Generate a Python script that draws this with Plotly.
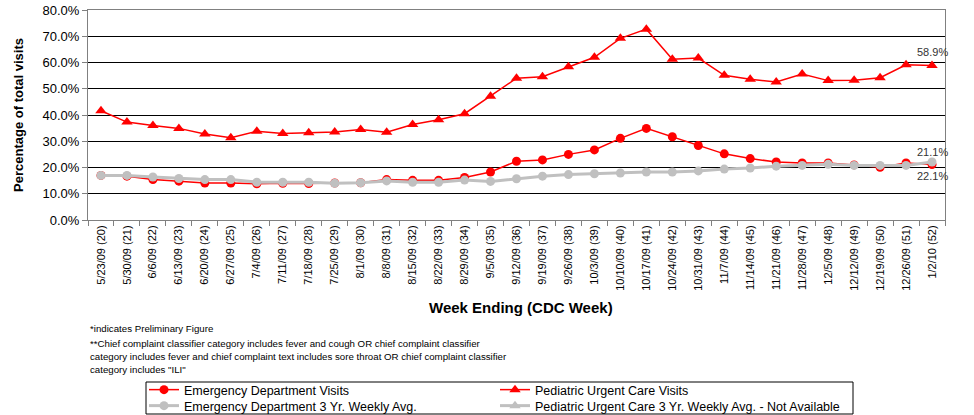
import plotly.graph_objects as go

weeks = ["5/23/09 (20)", "5/30/09 (21)", "6/6/09 (22)", "6/13/09 (23)", "6/20/09 (24)",
         "6/27/09 (25)", "7/4/09 (26)", "7/11/09 (27)", "7/18/09 (28)", "7/25/09 (29)",
         "8/1/09 (30)", "8/8/09 (31)", "8/15/09 (32)", "8/22/09 (33)", "8/29/09 (34)",
         "9/5/09 (35)", "9/12/09 (36)", "9/19/09 (37)", "9/26/09 (38)", "10/3/09 (39)",
         "10/10/09 (40)", "10/17/09 (41)", "10/24/09 (42)", "10/31/09 (43)", "11/7/09 (44)",
         "11/14/09 (45)", "11/21/09 (46)", "11/28/09 (47)", "12/5/09 (48)", "12/12/09 (49)",
         "12/19/09 (50)", "12/26/09 (51)", "1/2/10 (52)"]

ped_visits = [41.6, 37.3, 36.0, 34.9, 32.8, 31.3, 33.8, 33.0, 33.2, 33.5, 34.5, 33.4, 36.4,
              38.2, 40.5, 47.1, 54.0, 54.6, 58.4, 62.0, 69.2, 72.7, 61.2, 61.7, 55.1, 53.6,
              52.6, 55.6, 53.1, 53.2, 54.2, 59.1, 58.9]
ed_visits = [17.0, 16.7, 15.4, 14.8, 14.1, 14.1, 13.8, 14.0, 13.9, 14.1, 14.2, 15.4, 15.1,
             15.1, 16.2, 18.3, 22.4, 22.9, 25.0, 26.7, 31.1, 34.9, 31.7, 28.4, 25.2, 23.4,
             22.1, 21.7, 21.7, 21.0, 20.1, 21.7, 21.1]
ed_avg = [17.0, 17.0, 16.4, 15.8, 15.4, 15.4, 14.4, 14.4, 14.4, 14.0, 14.2, 14.9, 14.4,
          14.4, 15.2, 14.7, 15.7, 16.7, 17.3, 17.6, 17.9, 18.3, 18.3, 18.7, 19.4, 19.8,
          20.5, 20.8, 21.2, 20.8, 20.8, 20.8, 22.1]

footnotes = ["*indicates Preliminary Figure",
             "**Chief complaint classifier category includes fever and cough OR chief complaint classifier",
             "category includes fever and chief complaint text includes sore throat OR chief complaint classifier",
             "category includes \"ILI\""]

RED = "#ff0000"
GRAY = "#c0c0c0"
FONT = "Liberation Sans, Arial, sans-serif"

# plot area geometry (px) used to convert to paper coords
L, R, T, B = 88, 945, 10, 220
def px_x(x):
    return (x - L) / (R - L)
def px_y(y):
    return (B - y) / (B - T)

fig = go.Figure()
fig.add_trace(go.Scatter(x=weeks, y=ed_visits, name="Emergency Department Visits",
                         mode="lines+markers", line=dict(color=RED, width=1.5),
                         marker=dict(symbol="circle", size=9, color=RED), legend="legend"))
fig.add_trace(go.Scatter(x=weeks, y=ed_avg, name="Emergency Department 3 Yr. Weekly Avg.",
                         mode="lines+markers", line=dict(color=GRAY, width=3),
                         marker=dict(symbol="circle", size=9, color=GRAY), legend="legend2"))
fig.add_trace(go.Scatter(x=weeks, y=ped_visits, name="Pediatric Urgent Care Visits",
                         mode="lines+markers", line=dict(color=RED, width=1.5),
                         marker=dict(symbol="triangle-up", size=10, color=RED), legend="legend"))
fig.add_trace(go.Scatter(x=[None], y=[None],
                         name="Pediatric Urgent Care 3 Yr. Weekly Avg. - Not Available",
                         mode="lines+markers", line=dict(color=GRAY, width=3),
                         marker=dict(symbol="triangle-up", size=10, color=GRAY), legend="legend2"))

annotations = []
last = weeks[-1]
annotations.append(dict(x=last, y=ped_visits[-1], text=f"{ped_visits[-1]:.1f}%", showarrow=False,
                        yshift=13, font=dict(size=11, color="#333333", family=FONT)))
annotations.append(dict(x=last, y=ed_visits[-1], text=f"{ed_visits[-1]:.1f}%", showarrow=False,
                        yshift=13, font=dict(size=11, color="#333333", family=FONT)))
annotations.append(dict(x=last, y=ed_avg[-1], text=f"{ed_avg[-1]:.1f}%", showarrow=False,
                        yshift=-14, font=dict(size=11, color="#333333", family=FONT)))
annotations.append(dict(xref="paper", yref="paper", x=0.505, y=px_y(307),
                        text="<b>Week Ending (CDC Week)</b>", showarrow=False,
                        yanchor="middle", font=dict(size=15, color="#000000", family=FONT)))
for t, py in zip(footnotes, [328, 343, 356, 369]):
    annotations.append(dict(xref="paper", yref="paper", x=0, y=px_y(py), text=t,
                            showarrow=False, xanchor="left", yanchor="middle",
                            font=dict(size=9.7, color="#000000", family=FONT)))

legend_common = dict(orientation="h", xanchor="left", yanchor="middle",
                     entrywidth=306, entrywidthmode="pixels", borderwidth=0,
                     bgcolor="rgba(0,0,0,0)", traceorder="normal",
                     font=dict(size=12.5, family=FONT, color="#000000"),
                     itemwidth=30, tracegroupgap=0)

fig.update_layout(
    width=974, height=415,
    margin=dict(l=L, r=974 - R, t=T, b=415 - B, autoexpand=False),
    paper_bgcolor="white", plot_bgcolor="white",
    font=dict(family=FONT, color="#000000"),
    showlegend=True,
    legend=dict(x=px_x(144), y=px_y(390), **legend_common),
    legend2=dict(x=px_x(144), y=px_y(406), **legend_common),
    annotations=annotations,
    shapes=[dict(type="rect", xref="paper", yref="paper", x0=px_x(146), x1=px_x(853),
                 y0=px_y(382), y1=px_y(414), line=dict(color="#000000", width=1),
                 fillcolor="rgba(0,0,0,0)", layer="below")],
    xaxis=dict(type="category", range=[-0.5, len(weeks) - 0.5], tickangle=-90,
               tickson="boundaries", ticks="outside",
               ticklen=5, tickcolor="#808080", showline=True, linecolor="#808080",
               linewidth=1, mirror=True, showgrid=False, automargin=False,
               tickfont=dict(size=11, family=FONT, color="#000000")),
    yaxis=dict(range=[0, 80], dtick=10, tickformat=".1f", ticksuffix="%",
               ticks="outside", ticklen=5, tickcolor="#808080", showline=True,
               linecolor="#808080", linewidth=1, mirror=True, showgrid=True,
               gridcolor="#000000", gridwidth=1, zeroline=False, automargin=False,
               tickfont=dict(size=13, family=FONT, color="#000000"),
               title=dict(text="<b>Percentage of total visits</b>", standoff=15,
                          font=dict(size=13, family=FONT, color="#000000"))),
)

fig.write_html("out.html", config={"displayModeBar": False},
               post_script="document.body.style.margin='0px';")
